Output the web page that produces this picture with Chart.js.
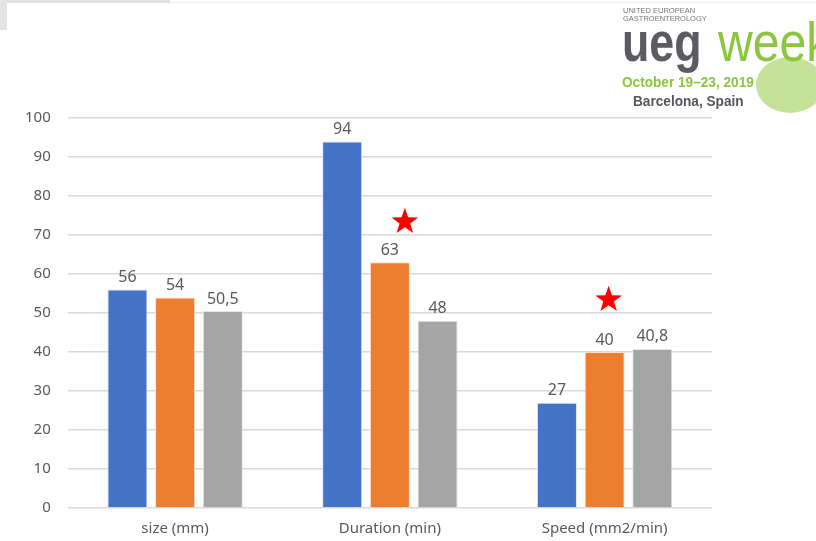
<!DOCTYPE html>
<html lang="en">
<head>
<meta charset="UTF-8">
<title>UEG week chart</title>
<script src="https://cdn.jsdelivr.net/npm/chart.js@4.4.1/dist/chart.umd.min.js"></script>
<style>
  html, body { margin: 0; padding: 0; background: #fff; }
  #wrap { position: relative; width: 816px; height: 541px; overflow: hidden; font-family: "Noto Sans", sans-serif; }
  #graph { position: absolute; left: 0; top: 0; }
  .topbar { position: absolute; left: 0; top: 0; width: 170px; height: 3px; background: #e0e0e0; }
  .topline { position: absolute; left: 170px; top: 2px; width: 646px; height: 1px; background: #f0f0f0; }
  .leftbar { position: absolute; left: 0; top: 0; width: 7px; height: 30px; background: #e4e4e4; }
  .logo { position: absolute; left: 620px; top: 4px; width: 196px; height: 110px; font-family: "Liberation Sans", sans-serif; }
  .logo div { position: absolute; white-space: nowrap; transform-origin: left top; }
  .logo .small { left: 3px; top: 3px; font-size: 7.5px; line-height: 8px; color: #777; }
  .logo .ueg { left: 2px; top: 7px; font-size: 56px; line-height: 1.117; font-weight: bold; color: #5a5c61; transform: scaleX(0.8); }
  .logo .week { left: 98px; top: 7px; font-size: 56px; line-height: 1.117; color: #8cc63f; transform: scaleX(0.86); }
  .logo .leaf { left: 136px; top: 53px; width: 68px; height: 56px; border-radius: 50%; background: #c6e29a; }
  .logo .date { left: 2px; top: 70px; font-size: 14.5px; font-weight: bold; color: #8cc63f; transform: scaleX(0.94); }
  .logo .city { left: 13px; top: 89px; font-size: 14.5px; font-weight: bold; color: #55575b; transform: scaleX(0.94); }
</style>
</head>
<body>
<div id="wrap">
  <canvas id="graph" width="816" height="541"></canvas>
  <div class="topbar"></div>
  <div class="topline"></div>
  <div class="leftbar"></div>
  <div class="logo">
    <div class="leaf"></div>
    <div class="small">UNITED EUROPEAN<br>GASTROENTEROLOGY</div>
    <div class="ueg">ueg</div>
    <div class="week">week</div>
    <div class="date">October 19–23, 2019</div>
    <div class="city">Barcelona, Spain</div>
  </div>
</div>
<script>
  const categories = ['size (mm)', 'Duration (min)', 'Speed (mm2/min)'];
  const seriesBlue = [56, 94, 27];
  const seriesOrange = [54, 63, 40];
  const seriesGray = [50.5, 48, 40.8];
  // red stars: category index + y value where they sit
  const starCategories = [1, 2];
  const starValues = [73.4, 53.4];

  const fmt = v => String(v).replace('.', ',');

  const valueLabels = {
    id: 'valueLabels',
    afterDatasetsDraw(chart) {
      const ctx = chart.ctx;
      ctx.save();
      ctx.font = '16px "Noto Sans", sans-serif';
      ctx.fillStyle = '#595959';
      ctx.textAlign = 'center';
      ctx.textBaseline = 'bottom';
      chart.data.datasets.forEach((ds, i) => {
        chart.getDatasetMeta(i).data.forEach((bar, j) => {
          ctx.fillText(fmt(ds.data[j]), bar.x, bar.y - 4);
        });
      });
      ctx.restore();
    }
  };

  const stars = {
    id: 'stars',
    afterDatasetsDraw(chart, args, opts) {
      const ctx = chart.ctx;
      const meta = chart.getDatasetMeta(1);
      ctx.save();
      ctx.fillStyle = '#ff0000';
      starCategories.forEach((c, k) => {
        const cx = meta.data[c].x + opts.dx[k];
        const cy = chart.scales.y.getPixelForValue(starValues[k]);
        const R = 14, r = 5.6;
        ctx.beginPath();
        for (let n = 0; n < 10; n++) {
          const a = -Math.PI / 2 + n * Math.PI / 5;
          const rad = n % 2 === 0 ? R : r;
          ctx.lineTo(cx + rad * Math.cos(a), cy + rad * Math.sin(a));
        }
        ctx.closePath();
        ctx.fill();
      });
      ctx.restore();
    }
  };

  const ctx = document.getElementById('graph').getContext('2d');
  new Chart(ctx, {
    type: 'bar',
    data: {
      labels: categories,
      datasets: [
        { data: seriesBlue, backgroundColor: '#4472C4', borderColor: '#dbe4f3', borderWidth: 1 },
        { data: seriesOrange, backgroundColor: '#ED7D31', borderColor: '#fbe0cf', borderWidth: 1 },
        { data: seriesGray, backgroundColor: '#A5A5A5', borderColor: '#e6e6e6', borderWidth: 1 }
      ]
    },
    options: {
      responsive: false,
      animation: false,
      categoryPercentage: 0.666,
      barPercentage: 0.84,
      layout: { padding: { top: 118, right: 104, left: 8, bottom: 0 } },
      plugins: { legend: { display: false }, tooltip: { enabled: false }, stars: { dx: [15, 4] } },
      scales: {
        y: {
          min: 0, max: 100,
          ticks: { stepSize: 10, color: '#595959', font: { family: 'Noto Sans', size: 15 }, padding: 17 },
          grid: { color: '#d9d9d9', lineWidth: 1.5, drawTicks: false },
          border: { display: false }
        },
        x: {
          ticks: { color: '#595959', font: { family: 'Noto Sans', size: 15, lineHeight: 1.0 }, padding: 5 },
          grid: { display: false },
          border: { display: false }
        }
      }
    },
    plugins: [valueLabels, stars]
  });
</script>
</body>
</html>
